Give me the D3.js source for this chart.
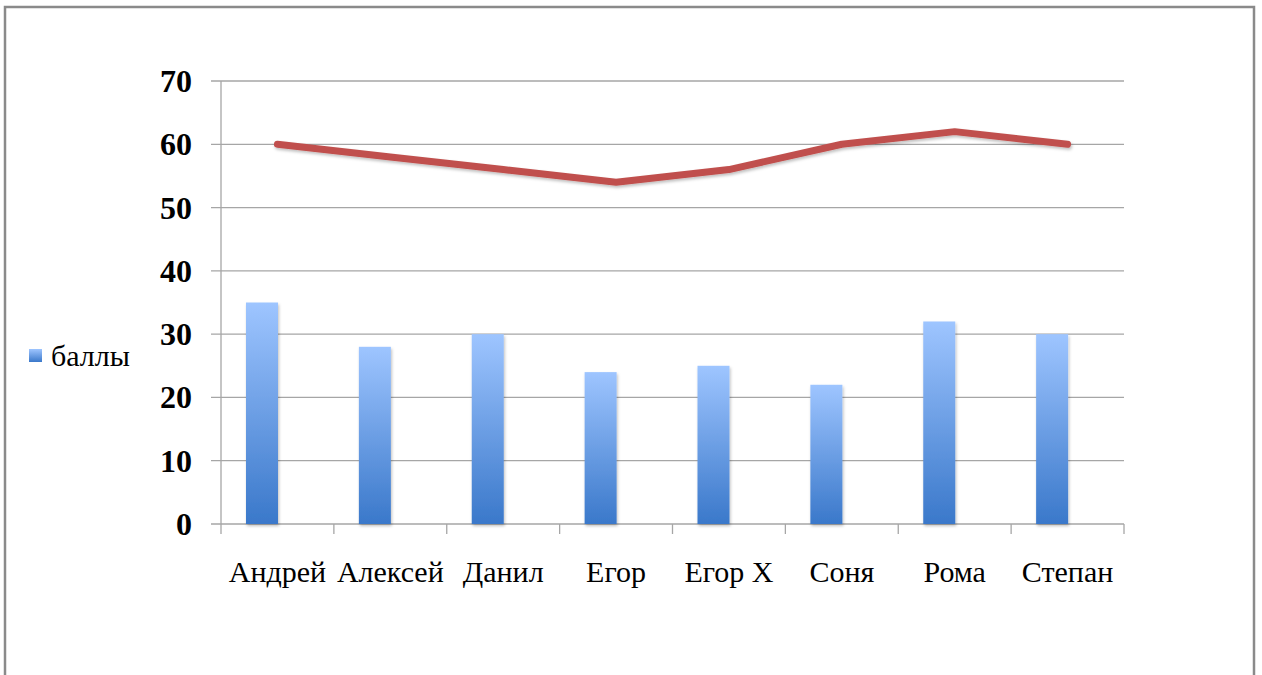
<!DOCTYPE html>
<html>
<head>
<meta charset="utf-8">
<script src="https://cdn.jsdelivr.net/npm/d3@7"></script>
<style>
  body { margin: 0; background: #fff; }
  svg { display: block; }
</style>
</head>
<body>
<div id="chart"></div>
<script>
// chart data
let names = ["Андрей", "Алексей", "Данил", "Егор", "Егор Х", "Соня", "Рома", "Степан"];
let scores = [35, 28, 30, 24, 25, 22, 32, 30];
let lineValues = [60, 58, 56, 54, 56, 60, 62, 60];
let yTicks = [0, 10, 20, 30, 40, 50, 60, 70];
let legendLabel = "баллы";

let W = 1262, H = 675;
let margin = {top: 81, right: 138, bottom: 151, left: 221},
    width = 1124 - margin.left,
    height = 524 - margin.top;

let svg = d3.select("#chart").append("svg")
    .attr("width", W)
    .attr("height", H);

let defs = svg.append("defs");
let grad = defs.append("linearGradient")
    .attr("id", "barGrad")
    .attr("x1", 0).attr("y1", 0).attr("x2", 0).attr("y2", 1);
grad.append("stop").attr("offset", "0%").attr("stop-color", "#9EC5FF");
grad.append("stop").attr("offset", "100%").attr("stop-color", "#3A78CA");

let shadow = defs.append("filter").attr("id", "shadow")
    .attr("x", "-20%").attr("y", "-20%").attr("width", "140%").attr("height", "140%");
shadow.append("feDropShadow")
    .attr("dx", 1).attr("dy", 2).attr("stdDeviation", 1.5)
    .attr("flood-color", "#000").attr("flood-opacity", 0.25);

// outer frame
svg.append("rect")
    .attr("x", 5).attr("y", 7)
    .attr("width", 1249).attr("height", 700)
    .attr("fill", "none")
    .attr("stroke", "#8a8a8a")
    .attr("stroke-width", 2.5);

let g = svg.append("g")
    .attr("transform", "translate(" + margin.left + "," + margin.top + ")");

let x = d3.scaleBand().domain(names).range([0, width]);
let y = d3.scaleLinear().domain([0, 70]).range([height, 0]);

// gridlines
g.selectAll(".grid")
    .data(yTicks)
    .enter().append("line")
    .attr("x1", -10)
    .attr("x2", width)
    .attr("y1", d => y(d))
    .attr("y2", d => y(d))
    .attr("stroke", "#a6a6a6")
    .attr("stroke-width", 1.3);

// y axis line
g.append("line")
    .attr("x1", 0).attr("x2", 0)
    .attr("y1", 0).attr("y2", height)
    .attr("stroke", "#a6a6a6")
    .attr("stroke-width", 1.3);

// x axis ticks at band boundaries
let bounds = names.map(d => x(d)).concat([width]);
g.selectAll(".xtick")
    .data(bounds)
    .enter().append("line")
    .attr("x1", d => d).attr("x2", d => d)
    .attr("y1", height).attr("y2", height + 10)
    .attr("stroke", "#a6a6a6")
    .attr("stroke-width", 1.3);

// y tick labels
g.selectAll(".ylab")
    .data(yTicks)
    .enter().append("text")
    .attr("x", -29)
    .attr("y", d => y(d) + 11)
    .attr("text-anchor", "end")
    .style("font-family", "'Liberation Serif', 'DejaVu Serif', serif")
    .style("font-weight", "bold")
    .style("font-size", "32px")
    .attr("fill", "#000")
    .text(d => d);

// category labels
g.selectAll(".xlab")
    .data(names)
    .enter().append("text")
    .attr("x", d => x(d) + x.bandwidth() / 2)
    .attr("y", height + 58)
    .attr("text-anchor", "middle")
    .style("font-family", "'Liberation Serif', 'DejaVu Serif', serif")
    .style("font-size", "30px")
    .attr("fill", "#000")
    .text(d => d);

// bars (sit left of center, as in the clustered layout)
let barW = 32;
g.selectAll(".bar")
    .data(names)
    .enter().append("rect")
    .attr("x", (d, i) => x(d) + 25)
    .attr("y", (d, i) => y(scores[i]))
    .attr("width", barW)
    .attr("height", (d, i) => height - y(scores[i]))
    .attr("fill", "url(#barGrad)")
    .attr("filter", "url(#shadow)");

// line series
let line = d3.line()
    .x((d, i) => x(names[i]) + x.bandwidth() / 2)
    .y(d => y(d));
g.append("path")
    .datum(lineValues)
    .attr("d", line)
    .attr("fill", "none")
    .attr("stroke", "#C0504D")
    .attr("stroke-width", 7)
    .attr("stroke-linejoin", "round")
    .attr("stroke-linecap", "round")
    .attr("filter", "url(#shadow)");

// legend
svg.append("rect")
    .attr("x", 29).attr("y", 349)
    .attr("width", 13).attr("height", 13)
    .attr("fill", "url(#barGrad)");
svg.append("text")
    .attr("x", 51).attr("y", 366)
    .style("font-family", "'Liberation Serif', 'DejaVu Serif', serif")
    .style("font-size", "30px")
    .attr("fill", "#000")
    .text(legendLabel);
</script>
</body>
</html>
